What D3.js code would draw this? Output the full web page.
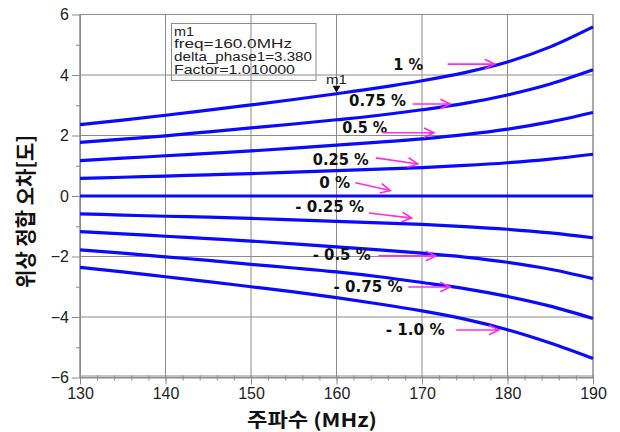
<!DOCTYPE html>
<html><head><meta charset="utf-8">
<script src="https://cdn.jsdelivr.net/npm/d3@7"></script>
<style>
body{margin:0;background:#fff;}
svg{display:block;font-family:Arial,"Liberation Sans",sans-serif;}
</style></head>
<body><svg id="c" width="620" height="432"></svg>
<script>
const freqs = [130,135,140,145,150,155,160,165,170,175,180,185,190];
const s_p100 = [2.36,2.51,2.67,2.84,3.01,3.19,3.38,3.58,3.81,4.08,4.43,4.93,5.59];
const s_p075 = [1.77,1.88,1.99,2.12,2.25,2.38,2.52,2.67,2.85,3.06,3.34,3.70,4.17];
const s_p050 = [1.17,1.25,1.33,1.41,1.49,1.58,1.68,1.78,1.89,2.03,2.21,2.45,2.76];
const s_p025 = [0.58,0.62,0.66,0.70,0.74,0.79,0.84,0.89,0.94,1.01,1.10,1.22,1.38];
const s_000  = [0,0,0,0,0,0,0,0,0,0,0,0,0];
const s_m025 = [-0.59,-0.63,-0.67,-0.70,-0.74,-0.79,-0.84,-0.89,-0.94,-1.01,-1.10,-1.22,-1.38];
const s_m050 = [-1.18,-1.25,-1.33,-1.41,-1.49,-1.58,-1.68,-1.78,-1.89,-2.02,-2.19,-2.42,-2.73];
const s_m075 = [-1.78,-1.89,-2.01,-2.13,-2.26,-2.38,-2.51,-2.67,-2.86,-3.06,-3.32,-3.64,-4.05];
const s_m100 = [-2.36,-2.51,-2.67,-2.83,-3.00,-3.17,-3.36,-3.57,-3.80,-4.07,-4.42,-4.86,-5.37];
const seriesList = [s_p100,s_p075,s_p050,s_p025,s_000,s_m025,s_m050,s_m075,s_m100];

const xTicks = [130,140,150,160,170,180,190];
const yTicks = [-6,-4,-2,0,2,4,6];
const xTitle = "주파수 (MHz)";
const yTitle = "위상 정합 오차[도]";

// labels: text, label centre (MHz, deg), arrow start/end (MHz, deg)
const labelText = ["1 %","0.75 %","0.5 %","0.25 %","0 %","- 0.25 %","- 0.5 %","- 0.75 %","- 1.0 %"];
const labelX = [168.4,164.8,163.3,160.5,159.8,159.2,160.6,163.7,169.2];
const labelY = [4.35,3.15,2.25,1.19,0.43,-0.36,-1.95,-2.98,-4.43];
const arrowX1 = [173.0,168.9,165.4,164.6,162.2,163.8,164.9,168.4,174.0];
const arrowY1 = [4.36,3.04,2.09,1.26,0.44,-0.56,-1.98,-3.01,-4.43];
const arrowX2 = [178.5,173.3,171.4,169.5,166.3,168.8,171.6,173.3,179.0];
const arrowY2 = [4.36,3.04,2.09,1.06,0.18,-0.73,-1.98,-3.01,-4.43];

const markerFreq = 160, markerVal = 3.38;
const markerLines = ["m1","freq=160.0MHz","delta_phase1=3.380","Factor=1.010000"];

const svg = d3.select("#c");
const L=80, R=593, T=14.5, B=377.5;
const x = d3.scaleLinear().domain([130,190]).range([L,R]);
const y = d3.scaleLinear().domain([-6,6]).range([B,T]);

// grid
const g = svg.append("g");
g.selectAll(".gx").data(xTicks).join("line")
  .attr("x1",d=>x(d)).attr("x2",d=>x(d)).attr("y1",T).attr("y2",B)
  .attr("stroke","#8c8c8c").attr("stroke-width",1);
g.selectAll(".gy").data(yTicks).join("line")
  .attr("x1",L).attr("x2",R).attr("y1",d=>y(d)).attr("y2",d=>y(d))
  .attr("stroke","#8c8c8c").attr("stroke-width",1);

// axes
const xa = svg.append("g").attr("transform",`translate(0,${B})`)
  .call(d3.axisBottom(x).tickValues(xTicks).tickSize(7).tickSizeOuter(0).tickFormat(d3.format("d")));
const xm = svg.append("g").attr("transform",`translate(0,${B-2})`)
  .call(d3.axisBottom(x).tickValues(d3.range(130,191,2)).tickSize(5).tickSizeOuter(0).tickFormat(""));
const ya = svg.append("g").attr("transform",`translate(${L},0)`)
  .call(d3.axisLeft(y).tickValues(yTicks).tickSize(8).tickSizeOuter(0).tickFormat(d3.format("d")));
const ym = svg.append("g").attr("transform",`translate(${L},0)`)
  .call(d3.axisLeft(y).tickValues([-5,-3,-1,1,3,5]).tickSize(4).tickSizeOuter(0).tickFormat(""));
[xa,xm,ya,ym].forEach(a=>{
  a.selectAll("path").attr("stroke","#8c8c8c");
  a.selectAll("line").attr("stroke","#8c8c8c");
  a.selectAll("text").attr("fill","#222").attr("font-size","16px").attr("font-family","Arial, 'Liberation Sans', sans-serif");
});
xa.selectAll("text").attr("dy","0.7em");
ya.selectAll("text").attr("dx","0px");
svg.append("rect").attr("x",L).attr("y",T).attr("width",R-L).attr("height",B-T)
  .attr("fill","none").attr("stroke","#8c8c8c");

// series
const line = d3.line().x((d,i)=>x(freqs[i])).y(d=>y(d)).curve(d3.curveMonotoneX);
svg.append("g").selectAll("path").data(seriesList).join("path")
  .attr("d",line).attr("fill","none").attr("stroke","#0a0aff").attr("stroke-width",3.2);

// marker box
const bx = svg.append("g");
bx.append("rect").attr("x",171.5).attr("y",23.5).attr("width",144.5).attr("height",57)
  .attr("fill","none").attr("stroke","#8c8c8c");
const mw = [20, 118, 138, 121];
bx.selectAll("text").data(markerLines).join("text")
  .attr("x",174).attr("y",(d,i)=>35.5+i*12.8).text(d=>d)
  .attr("font-size","12px").attr("fill","#222")
  .attr("textLength",(d,i)=>mw[i]).attr("lengthAdjust","spacingAndGlyphs");

// marker triangle
const mx = x(markerFreq), my = y(markerVal);
svg.append("path").attr("d",`M${mx-4},${my-8}L${mx+4},${my-8}L${mx},${my-1}Z`).attr("fill","#111");
svg.append("text").attr("x",mx).attr("y",my-10).attr("text-anchor","middle")
  .attr("font-size","12px").attr("textLength",21).attr("lengthAdjust","spacingAndGlyphs")
  .attr("fill","#222").text("m1");

// labels
const lw = [30,57,45,56,31,69,58,69,59];
svg.append("g").selectAll("text").data(labelText).join("text")
  .attr("x",(d,i)=>x(labelX[i])).attr("y",(d,i)=>y(labelY[i])).attr("dy","0.36em")
  .attr("text-anchor","middle").attr("font-weight","bold").attr("font-size","15px")
  .attr("font-family","'DejaVu Sans',Verdana,sans-serif")
  .attr("textLength",(d,i)=>lw[i]).attr("lengthAdjust","spacingAndGlyphs")
  .attr("fill","#111").text(d=>d);

// arrows
const ag = svg.append("g").attr("stroke","#ff2ee6").attr("stroke-width",1.6).attr("fill","none");
labelText.forEach((t,i)=>{
  const x1=x(arrowX1[i]), y1=y(arrowY1[i]), x2=x(arrowX2[i]), y2=y(arrowY2[i]);
  const ang = Math.atan2(y2-y1,x2-x1), h=11, w=0.45;
  ag.append("path").attr("d",
    `M${x1},${y1}L${x2},${y2}M${x2-h*Math.cos(ang-w)},${y2-h*Math.sin(ang-w)}L${x2},${y2}L${x2-h*Math.cos(ang+w)},${y2-h*Math.sin(ang+w)}`);
});

// titles
svg.append("text").attr("x",312).attr("y",427).attr("text-anchor","middle")
  .attr("font-weight","bold").attr("font-size","19px")
  .attr("textLength",130).attr("lengthAdjust","spacingAndGlyphs")
  .attr("font-family","'Noto Sans CJK KR',sans-serif").attr("fill","#111").text(xTitle);
svg.append("text").attr("transform",`translate(33,211.5) rotate(-90)`).attr("text-anchor","middle")
  .attr("font-weight","bold").attr("font-size","21px")
  .attr("textLength",153).attr("lengthAdjust","spacingAndGlyphs")
  .attr("font-family","'Noto Sans CJK KR',sans-serif").attr("fill","#111").text(yTitle);
</script></body></html>
